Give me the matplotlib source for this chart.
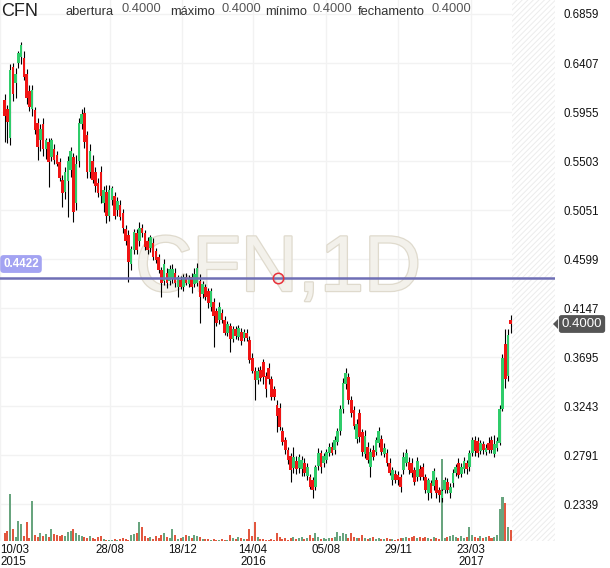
import matplotlib
matplotlib.use("Agg")
import matplotlib.pyplot as plt
import matplotlib.patheffects as pe
from matplotlib.patches import Polygon
import numpy as np

plt.rcParams['font.family'] = ['Liberation Sans', 'DejaVu Sans']
plt.rcParams['hatch.linewidth'] = 0.7

# daily candles, CFN 1D
opens = [.607, .598, .572, .637, .622, .641, .646, .645, .631, .615, .598, .597, .585, .570, .584, .561,
         .568, .554, .561, .556, .549, .533, .522, .532, .542, .554, .512, .550, .584, .595, .574, .540,
         .550, .540, .530, .540, .512, .522, .500, .514, .518, .505, .510, .502, .488, .482, .455, .468,
         .484, .477, .489, .484, .477, .470, .475, .467, .462, .450, .440, .447, .440, .442, .447, .434,
         .441, .434, .443, .437, .443, .437, .438, .440, .428, .434, .430, .416, .420, .412, .404, .410,
         .404, .392, .398, .386, .395, .388, .393, .387, .392, .385, .369, .357, .348, .358, .365, .352,
         .359, .349, .340, .325, .323, .301, .293, .284, .278, .267, .274, .267, .266, .272, .260, .259,
         .256, .250, .269, .281, .272, .275, .281, .287, .284, .291, .301, .322, .345, .351, .330, .321,
         .294, .318, .300, .280, .287, .268, .284, .282, .290, .294, .280, .281, .272, .256, .262, .261,
         .259, .265, .272, .273, .272, .265, .259, .266, .268, .259, .244, .253, .251, .256, .247, .240,
         .247, .254, .244, .253, .263, .272, .262, .266, .272, .268, .281, .293, .292, .283, .289, .282,
         .290, .293, .280, .286, .290, .322, .382, .352, .404]
highs = [.612, .602, .640, .641, .636, .652, .660, .652, .635, .620, .620, .600, .590, .584, .590, .572,
         .572, .572, .566, .560, .553, .537, .545, .555, .563, .558, .556, .590, .598, .600, .578, .566,
         .556, .545, .535, .546, .527, .528, .528, .527, .522, .517, .514, .506, .491, .487, .472, .488,
         .488, .494, .492, .487, .480, .482, .479, .470, .465, .453, .460, .452, .454, .455, .452, .445,
         .444, .446, .447, .445, .447, .452, .456, .446, .440, .437, .433, .433, .424, .415, .420, .414,
         .407, .403, .401, .398, .398, .399, .396, .395, .395, .389, .373, .360, .360, .361, .368, .356,
         .364, .352, .343, .330, .327, .305, .296, .287, .281, .287, .278, .280, .278, .276, .272, .262,
         .259, .270, .286, .284, .281, .285, .290, .291, .297, .304, .325, .350, .359, .355, .334, .324,
         .312, .322, .303, .302, .291, .286, .288, .296, .305, .298, .290, .285, .276, .268, .265, .264,
         .262, .282, .285, .277, .276, .268, .277, .270, .272, .262, .258, .256, .267, .259, .250, .248,
         .259, .258, .253, .266, .271, .276, .272, .277, .275, .284, .296, .297, .296, .293, .292, .289,
         .296, .297, .298, .296, .325, .372, .395, .395, .408]
lows = [.568, .567, .565, .606, .608, .636, .640, .625, .603, .596, .592, .575, .551, .560, .555, .552,
        .526, .550, .548, .546, .532, .508, .515, .499, .536, .494, .505, .545, .580, .562, .535, .535,
        .530, .522, .517, .512, .503, .493, .495, .510, .497, .500, .496, .484, .473, .439, .450, .465,
        .465, .472, .480, .468, .465, .466, .459, .456, .447, .425, .436, .433, .436, .438, .434, .425,
        .432, .430, .436, .434, .429, .434, .435, .401, .424, .422, .415, .412, .379, .398, .400, .401,
        .390, .389, .374, .383, .386, .385, .381, .384, .384, .364, .355, .330, .345, .347, .345, .333,
        .345, .330, .330, .300, .302, .288, .280, .271, .254, .263, .262, .263, .260, .260, .256, .248,
        .240, .247, .265, .263, .268, .272, .278, .279, .280, .288, .298, .318, .340, .326, .314, .303,
        .290, .291, .278, .276, .272, .259, .275, .279, .287, .279, .277, .269, .261, .252, .253, .252,
        .245, .262, .269, .262, .259, .252, .255, .256, .256, .244, .238, .240, .247, .240, .236, .236,
        .244, .244, .240, .250, .260, .258, .259, .263, .262, .264, .278, .278, .277, .280, .280, .279,
        .281, .281, .277, .283, .288, .320, .341, .347, .392]
closes = [.592, .586, .634, .612, .631, .650, .657, .628, .608, .600, .616, .579, .563, .580, .561, .570,
          .549, .570, .551, .548, .535, .521, .540, .550, .560, .503, .548, .585, .594, .568, .540, .560,
          .533, .527, .521, .518, .524, .500, .524, .525, .500, .513, .499, .489, .477, .457, .469, .485,
          .468, .489, .484, .471, .468, .480, .462, .459, .450, .438, .455, .438, .451, .451, .438, .443,
          .434, .443, .438, .442, .434, .446, .452, .425, .437, .425, .419, .430, .407, .401, .416, .404,
          .392, .400, .386, .395, .389, .396, .384, .393, .387, .367, .357, .348, .357, .350, .351, .340,
          .349, .333, .333, .315, .305, .291, .284, .275, .265, .277, .266, .277, .275, .263, .268, .250,
          .247, .268, .281, .268, .278, .282, .287, .281, .293, .301, .322, .346, .355, .330, .318, .306,
          .308, .296, .282, .297, .275, .282, .277, .293, .301, .282, .286, .272, .263, .265, .256, .256,
          .250, .277, .281, .265, .263, .254, .274, .259, .259, .247, .256, .244, .264, .244, .242, .246,
          .256, .247, .250, .263, .268, .261, .268, .274, .266, .281, .293, .283, .281, .290, .284, .286,
          .284, .284, .289, .292, .322, .369, .349, .390, .400]
volumes = [8, 10, 47, 12, 4, 20, 17, 5, 19, 3, 40, 6, 4, 8, 5, 7, 4, 12, 7, 6, 5, 6, 5, 9, 10, 12, 8, 6,
           5, 4, 3, 5, 3, 2, 4, 5, 2, 1, 1, 1, 2, 1, 2, 3, 2, 1, 6, 7, 8, 19, 14, 5, 3, 4, 2, 5, 3, 6,
           8, 4, 3, 12, 6, 2, 3, 4, 6, 5, 3, 6, 5, 4, 2, 2, 2, 1, 2, 1, 1, 2, 1, 1, 6, 3, 2, 4, 3, 2,
           2, 12, 5, 19, 4, 2, 2, 1, 1, 2, 1, 8, 4, 2, 3, 1, 3, 4, 2, 3, 4, 2, 3, 6, 3, 8, 4, 2, 3, 2,
           3, 3, 4, 9, 5, 8, 7, 3, 8, 4, 3, 3, 6, 3, 2, 3, 4, 2, 3, 2, 2, 3, 2, 2, 1, 2, 3, 3, 4, 3,
           4, 5, 3, 4, 3, 4, 3, 2, 4, 3, 2, 82, 3, 4, 5, 6, 4, 3, 5, 3, 4, 14, 6, 4, 3, 5, 3, 4, 5, 3,
           4, 6, 32, 44, 38, 14, 11]

y_ticks = [0.2339, 0.2791, 0.3243, 0.3695, 0.4147, 0.4599, 0.5051, 0.5503, 0.5955, 0.6407, 0.6859]
x_tick_pos = [-1.7, 38.3, 64.5, 90.3, 116.8, 143.0, 169.6]
x_tick_labels = ["10/03\n2015", "28/08", "18/12", "14/04\n2016", "05/08", "29/11", "23/03\n2017"]
alert_price = 0.4422
last_price = 0.4000

W, H = 610, 568
fig = plt.figure(figsize=(W / 100, H / 100), dpi=100)
ax = fig.add_axes([0, 27 / H, 555 / W, 541 / H])

idx = np.arange(len(closes))
o = np.array(opens); c = np.array(closes)
up = c >= o
body_col = np.where(up, '#2fcc6a', '#f01414')
vol_col = np.where(up, '#68a47e', '#e2573f')

# volume, 1 unit = 1px of the axes height
ax.bar(idx, np.array(volumes) / 541.0, bottom=0, width=0.75, color=vol_col,
       transform=ax.get_xaxis_transform(), zorder=1)

# watermark
ax.text(99.4, 0.4305, "CFN,1D", fontsize=57, ha='center', va='baseline', color='#f3f1eb', zorder=0.8,
        path_effects=[pe.withStroke(linewidth=1.8, foreground='#dfdacd')])

# candles
ax.vlines(idx, lows, highs, color='black', lw=0.8, zorder=2)
bh = np.maximum(np.abs(c - o), 0.0012)
ax.bar(idx, bh, bottom=np.minimum(o, c), width=0.95, color=body_col, zorder=3)

# future area
ax.axvspan(184.6, 200.1, facecolor='white', edgecolor='#ececec', hatch='//////', lw=0, zorder=0.6)

# alert line
ax.axhline(alert_price, color='#6f6fb5', lw=1.8, zorder=4)
ax.plot(99.4, alert_price, 'o', ms=7.5, mfc='none', mec='#e8303a', mew=1.1, zorder=5)

ax.set_xlim(-1.7, 200.1)
ax.set_ylim(0.1999, 0.6988)
ax.set_yticks(y_ticks)
ax.set_yticklabels([f"{v:.4f}" for v in y_ticks])
ax.set_xticks(x_tick_pos)
ax.set_xticklabels(x_tick_labels, linespacing=1.05)
ax.get_xticklabels()[0].set_ha('left')
ax.yaxis.tick_right()
ax.tick_params(length=0, labelsize=8.3, colors='#111111')
ax.tick_params(axis='y', pad=6)
ax.tick_params(axis='x', pad=2)
ax.grid(True, color='#f2f2f2', lw=1)
ax.set_axisbelow(True)
for s in ax.spines.values():
    s.set_visible(False)

def fx(x): return x / W
def fy(y): return 1 - y / H

# header
fig.text(fx(1), fy(11), "CFN", fontsize=13, color='#222222', va='center')
hdr = [("abertura", 66, 121), ("máximo", 170, 221), ("mínimo", 265, 313), ("fechamento", 358, 431)]
for lbl, xl, xv in hdr:
    fig.text(fx(xl), fy(15), lbl, fontsize=9.3, color='#333333', va='baseline')
    fig.text(fx(xv), fy(12), f"{last_price:.4f}", fontsize=9.3, color='#555555', va='baseline')

# alert label on left
fig.text(fx(21), fy(264), f"{alert_price:.4f}", fontsize=8.4, color='white', ha='center', va='center',
         fontweight='bold',
         bbox=dict(boxstyle='round,pad=0.25,rounding_size=0.3', fc='#a3a3f2', ec='none'))

# last price label on right
fig.text(fx(582), fy(324), f"{last_price:.4f}", fontsize=9.5, color='white', ha='center', va='center',
         bbox=dict(boxstyle='round,pad=0.22,rounding_size=0.2', fc='#555555', ec='none'))
fig.patches.append(Polygon([(fx(553), fy(324)), (fx(558), fy(319)), (fx(558), fy(329))],
                           closed=True, fc='#555555', ec='none', transform=fig.transFigure))

fig.savefig("out.png", dpi=100)
